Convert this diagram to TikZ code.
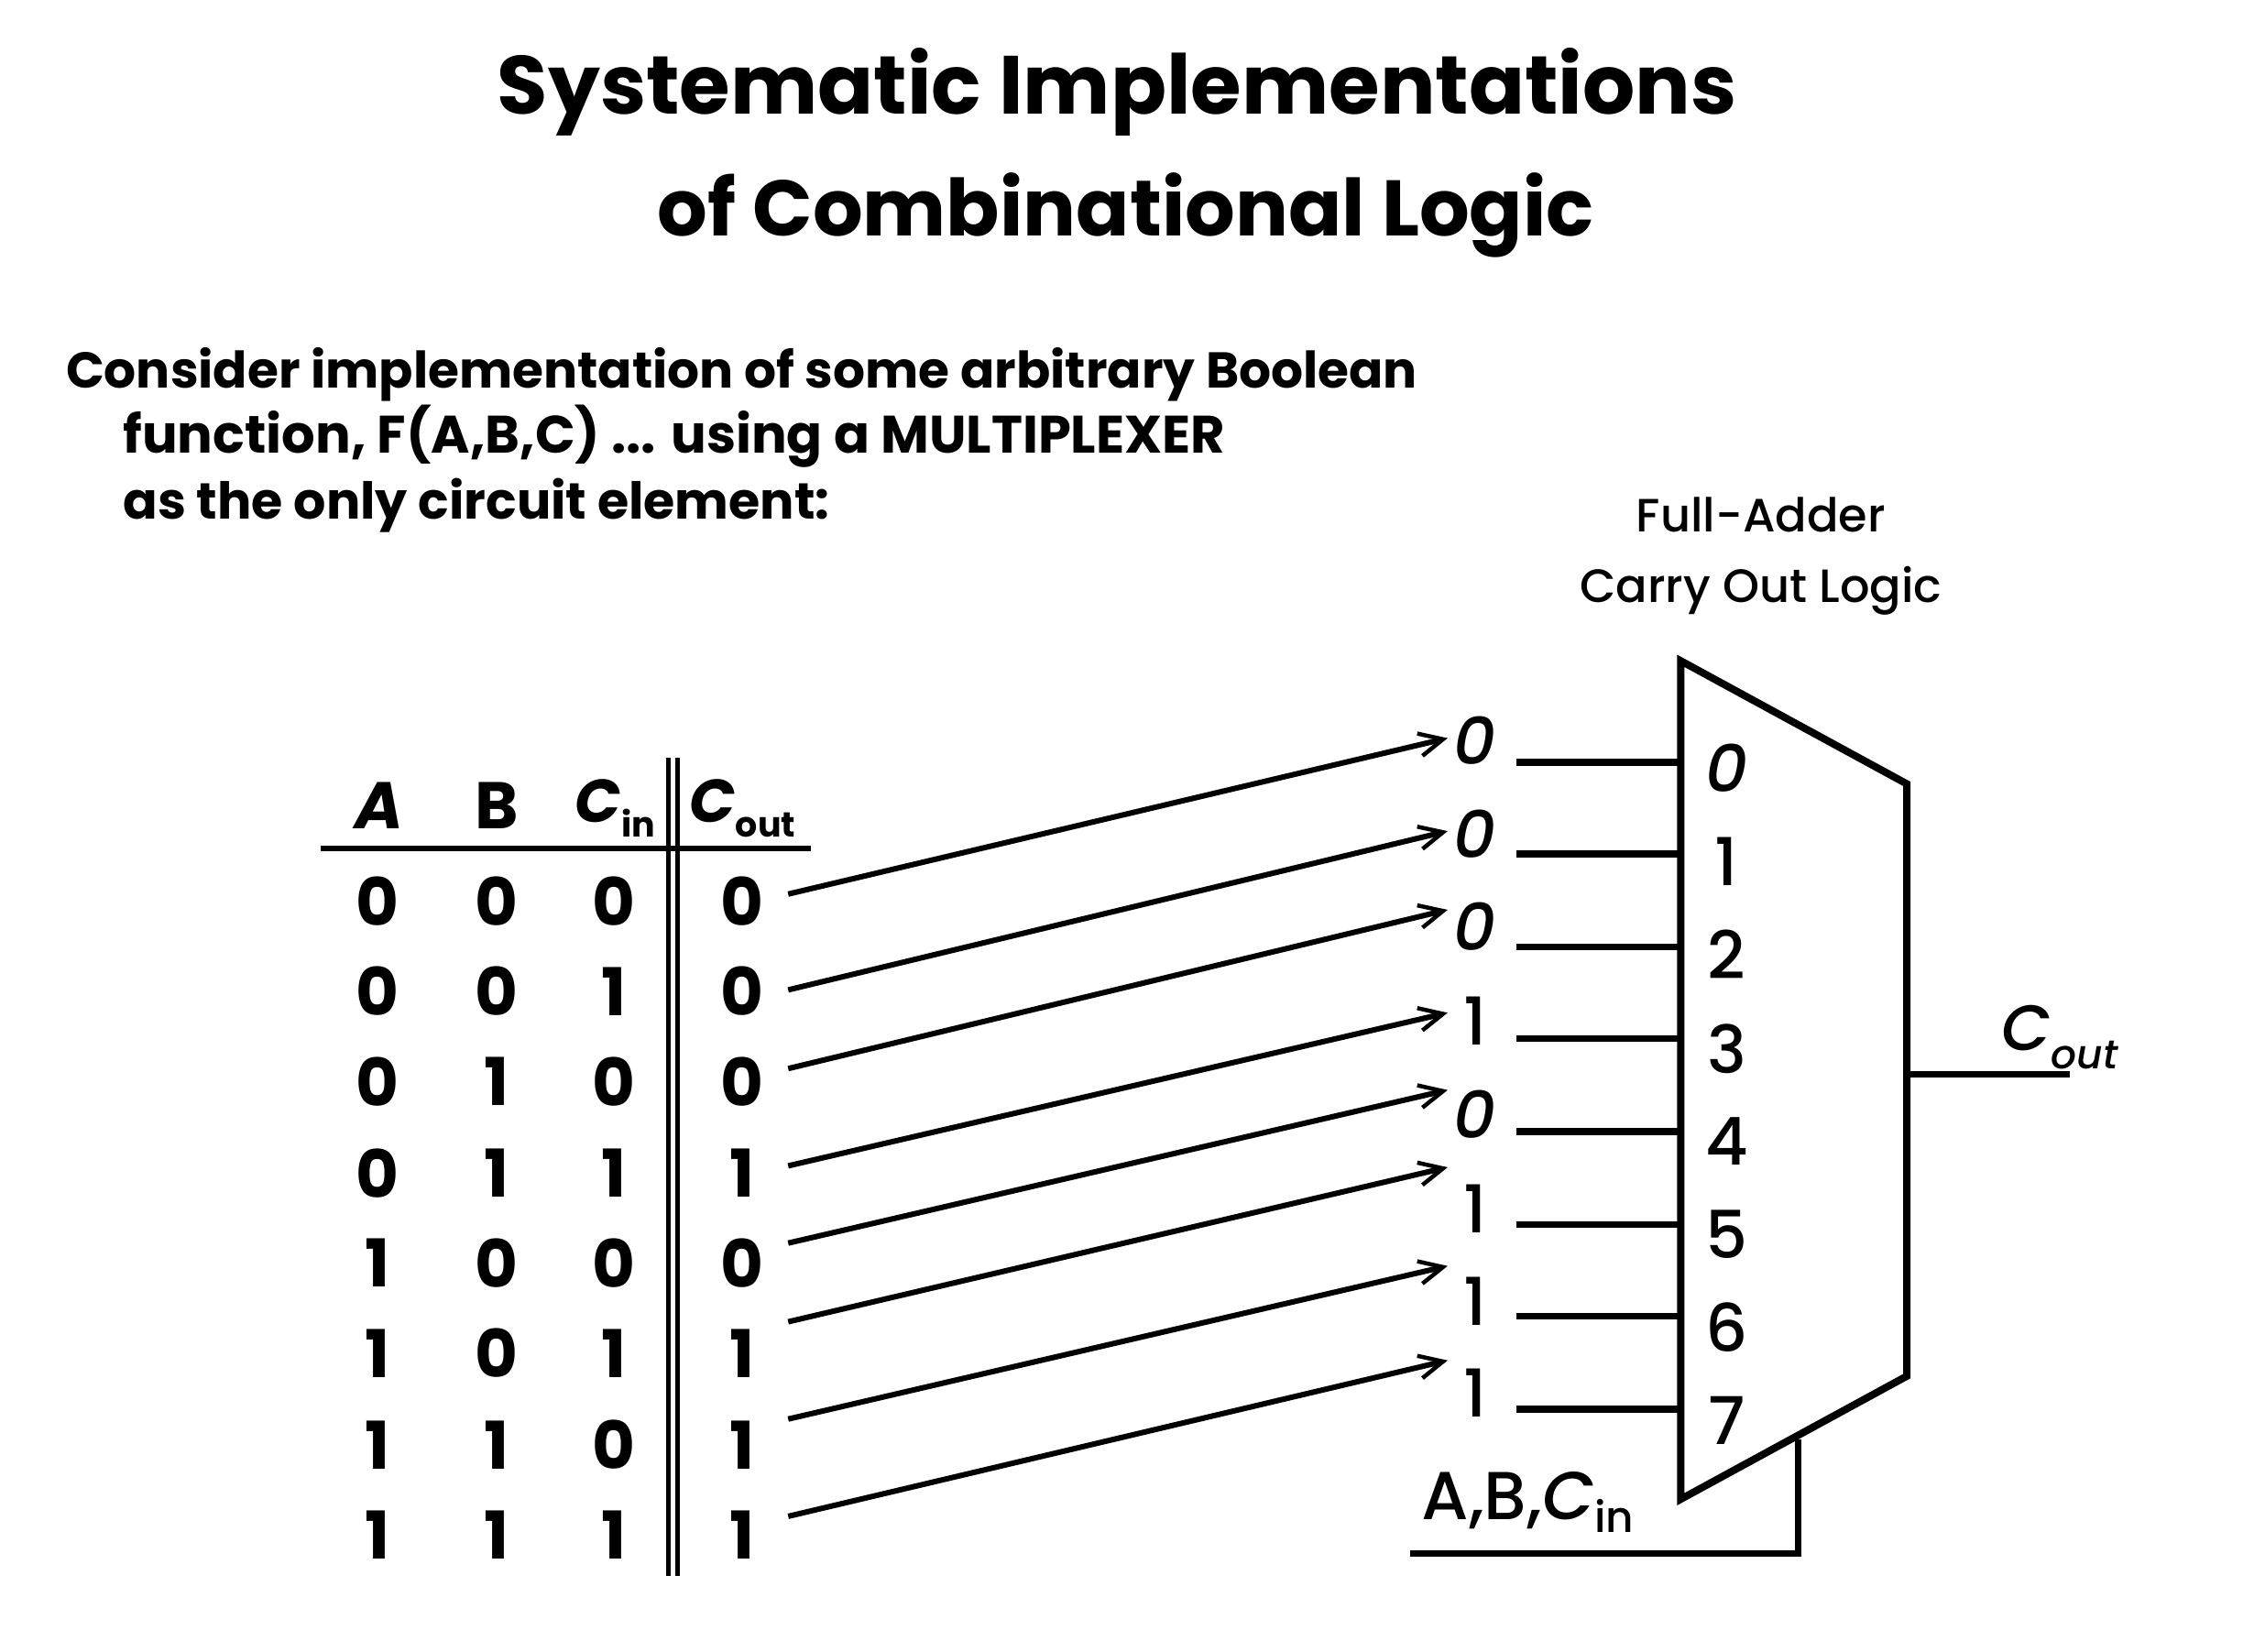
\documentclass[tikz,border=0pt]{standalone}
\usepackage{fontspec}
\usetikzlibrary{arrows.meta}
\setmainfont{Poppins}
\newfontfamily\med[ItalicFont={Poppins Medium Italic}]{Poppins Medium}
\begin{document}
\begin{tikzpicture}[x=1.5612pt,y=-1.5612pt,
  wire/.style={line width=7.5pt,line cap=butt},
  conn/.style={line width=6pt,-{Straight Barb[length=26pt,width=25pt,line width=4.5pt]}},
  tbl/.style={font=\fontsize{72}{72}\selectfont\bfseries,inner sep=0pt,anchor=center},
  hdr/.style={font=\fontsize{66}{66}\selectfont\bfseries,inner sep=0pt,anchor=center},
  val/.style={font=\med\fontsize{72}{72}\selectfont,inner sep=0pt,anchor=center},
  ttl/.style={font=\fontsize{90}{90}\selectfont\bfseries,inner sep=0pt,anchor=base},
  para/.style={font=\fontsize{55}{55}\selectfont\bfseries,inner sep=0pt,anchor=base west},
  captext/.style={font=\med\fontsize{51}{51}\selectfont,inner sep=0pt,anchor=base}]
\useasboundingbox (0,0) rectangle (1568,1154.3);
\fill[white] (0,0) rectangle (1568,1154.3);
% title and text
\node[ttl] (t1) at (781,80) {Systematic Implementations};
\node[ttl,font=\fontsize{86}{86}\selectfont\bfseries] (t2) at (787,165) {of Combinational Logic};
\node[para] (p1) at (46,271) {Consider implementation of some arbitrary Boolean};
\node[para,font=\fontsize{57.5}{57.5}\selectfont\bfseries] (p2) at (86,317) {function, F(A,B,C) ... using a MULTIPLEXER};
\node[para,font=\fontsize{55.5}{55.5}\selectfont\bfseries] (p3) at (86,363) {as the only circuit element:};
\node[captext] (f1) at (1231,372) {Full-Adder};
\node[captext] (f2) at (1231,421) {Carry Out Logic};
% table header
\node[tbl] (hA) at (265,563) {\itshape A};
\node[tbl] (hB) at (347,563) {B};
\node[hdr] (hC) at (430,565) {\itshape C\raisebox{-16pt}{\fontsize{38}{38}\selectfont\upshape in}};
\node[hdr] (hD) at (519,565) {\itshape C\raisebox{-16pt}{\fontsize{38}{38}\selectfont\upshape out}};
% table rules
\coordinate (rl) at (224,593);
\coordinate (rr) at (567,593);
\draw[line width=6pt] (rl) -- (rr);
\coordinate (d1t) at (467.5,530);
\coordinate (d1b) at (467.5,1102);
\coordinate (d2t) at (473.5,530);
\coordinate (d2b) at (473.5,1102);
\draw[line width=5pt] (d1t) -- (d1b);
\draw[line width=5pt] (d2t) -- (d2b);
% table rows
\foreach \r/\y/\a/\b/\c/\d in {0/630/0/0/0/0,1/693/0/0/1/0,2/756/0/1/0/0,3/820/0/1/1/1,4/883/1/0/0/0,5/946/1/0/1/1,6/1010/1/1/0/1,7/1073/1/1/1/1}{
  \node[tbl] (a\r) at (264,\y) {\a};
  \node[tbl] (b\r) at (347,\y) {\b};
  \node[tbl] (c\r) at (429,\y) {\c};
  \node[tbl] (d\r) at (519,\y) {\d};
}
% mux
\coordinate (m1) at (1175,462);
\coordinate (m2) at (1333,548);
\coordinate (m3) at (1333,962);
\coordinate (m4) at (1175,1048);
\draw[line width=8pt,miter limit=10] (m1) -- (m2) -- (m3) -- (m4) -- cycle;
% values, arrows, input wires, mux labels
\foreach \i/\v/\vy/\sy/\ey/\wy/\ly/\lab in {
 0/0/518/625/516/533/537/0,
 1/0/583/692/581/597/602/1,
 2/0/648/747/636/662/667/2,
 3/1/714/815/708/726/733/3,
 4/0/779/869/762/791/798/4,
 5/1/845/924/816/856/863/5,
 6/1/910/992/885/920/928/6,
 7/1/974/1060/951/985/993/7}{
  \node[val] (v\i) at (1031,\vy) {\ifnum\v=0 \itshape\fi\v};
  \node[val] (l\i) at (1207,\ly) {\ifnum\lab=0 \itshape\fi\lab};
  \coordinate (s\i) at (551,\sy);
  \coordinate (e\i) at (1012,\ey);
  \draw[conn] (s\i) -- (e\i);
  \coordinate (w\i) at (1060,\wy);
  \coordinate (x\i) at (1175,\wy);
  \draw[wire] (w\i) -- (x\i);
}
% output
\coordinate (o1) at (1333,751);
\coordinate (o2) at (1447,751);
\draw[wire] (o1) -- (o2);
\node[val,font=\med\fontsize{70}{70}\selectfont] (co) at (1440,725) {\itshape C\raisebox{-20pt}{\fontsize{44}{44}\selectfont out}};
% select
\coordinate (q1) at (1257,1006);
\coordinate (q2) at (1257,1086);
\coordinate (q3) at (986,1086);
\draw[wire,line join=miter] (q1) -- (q2) -- (q3);
\node[val,font=\med\fontsize{74}{74}\selectfont] (sel) at (1068,1050) {A,B,{\itshape C}\raisebox{-14pt}{\fontsize{47}{47}\selectfont in}};
\end{tikzpicture}
\end{document}
